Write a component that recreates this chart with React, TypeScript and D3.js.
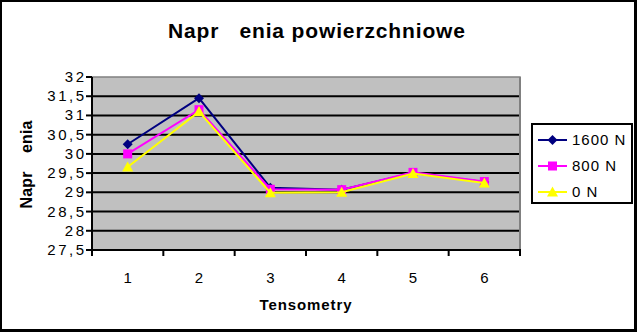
import React from "react";
import * as d3 from "d3";

const categories = ["1", "2", "3", "4", "5", "6"];
const seriesNames = ["1600 N", "800 N", "0 N"];
const values1600 = [30.25, 31.45, 29.12, 29.07, 29.5, 29.27];
const values800 = [30.0, 31.15, 29.08, 29.07, 29.52, 29.28];
const values0 = [29.66, 31.1, 28.99, 29.0, 29.49, 29.24];
const yTicks = [27.5, 28, 28.5, 29, 29.5, 30, 30.5, 31, 31.5, 32];
const titleText = "Napr   enia powierzchniowe";
const yTitle = "Napr    enia";
const xTitle = "Tensometry";

const W = 637, H = 332;
const plot = { l: 92, r: 520, t: 77, b: 250 };
const colors = ["#000080", "#FF00FF", "#FFFF00"];
const markers = ["diamond", "square", "triangle"];

export default function App() {
  const x = d3.scaleBand<string>().domain(categories).range([plot.l, plot.r]);
  const y = d3.scaleLinear().domain([27.5, 32]).range([plot.b, plot.t]);
  const allSeries = [values1600, values800, values0];
  const line = d3.line<number>()
    .x((_, i) => (x(categories[i]) as number) + x.bandwidth() / 2)
    .y((v) => y(v));
  const fmt = (v: number) => String(v).replace(".", ",");

  const marker = (kind: string, cx: number, cy: number, color: string, key: string) => {
    if (kind === "diamond") {
      const s = 5;
      return <path key={key} d={`M${cx},${cy - s}L${cx + s},${cy}L${cx},${cy + s}L${cx - s},${cy}Z`} fill={color} />;
    }
    if (kind === "square") {
      const s = 4.5;
      return <rect key={key} x={cx - s} y={cy - s} width={2 * s} height={2 * s} fill={color} />;
    }
    const s = 5.5;
    return <path key={key} d={`M${cx},${cy - s}L${cx + s},${cy + s - 1}L${cx - s},${cy + s - 1}Z`} fill={color} />;
  };

  const bounds = [...categories.map((c) => x(c) as number), plot.r];
  const font = "Arial, 'Liberation Sans', sans-serif";
  const legendY = [140, 166, 192];

  return (
    <svg width={W} height={H} style={{ position: "absolute", left: 0, top: 0, display: "block" }} fontFamily={font}>
      <rect x={0} y={0} width={W} height={H} fill="#fff" />
      <rect x={1} y={1} width={W - 3} height={H - 3} fill="none" stroke="#000" strokeWidth={2} />
      <line x1={W - 1.5} y1={0} x2={W - 1.5} y2={H} stroke="#000" strokeWidth={3} />
      <line x1={0} y1={H - 1.5} x2={W} y2={H - 1.5} stroke="#000" strokeWidth={3} />

      <text x={168} y={38} fontSize={21} fontWeight="bold" textLength={297} lengthAdjust="spacing" style={{ whiteSpace: "pre" }}>{titleText}</text>

      <rect x={plot.l} y={plot.t} width={plot.r - plot.l} height={plot.b - plot.t} fill="#C0C0C0" stroke="#808080" strokeWidth={1.5} />
      {yTicks.filter((t) => t !== 27.5 && t !== 32).map((t) => (
        <line key={"g" + t} x1={plot.l} x2={plot.r} y1={y(t)} y2={y(t)} stroke="#000" strokeWidth={2} />
      ))}
      <line x1={plot.r} x2={plot.r} y1={plot.t} y2={plot.b} stroke="#808080" strokeWidth={2} />
      <line x1={plot.l} x2={plot.l} y1={plot.t} y2={plot.b + 1} stroke="#000" strokeWidth={2} />
      <line x1={plot.l - 1} x2={plot.r + 1} y1={plot.b} y2={plot.b} stroke="#000" strokeWidth={2} />
      {yTicks.map((t) => (
        <g key={"yt" + t}>
          <line x1={plot.l - 6} x2={plot.l} y1={y(t)} y2={y(t)} stroke="#000" strokeWidth={2} />
          <text x={86.5} y={y(t) + 5} textAnchor="end" fontSize={15} letterSpacing={2.5}>{fmt(t)}</text>
        </g>
      ))}
      {bounds.map((b, i) => (
        <line key={"xt" + i} x1={b} x2={b} y1={plot.b} y2={plot.b + 6} stroke="#000" strokeWidth={2} />
      ))}
      {categories.map((c) => (
        <text key={"xl" + c} x={(x(c) as number) + x.bandwidth() / 2} y={283} textAnchor="middle" fontSize={15}>{c}</text>
      ))}
      <text x={306} y={310} textAnchor="middle" fontSize={15} fontWeight="bold" letterSpacing={0.9}>{xTitle}</text>
      <text transform="translate(32,164.5) rotate(-90)" textAnchor="middle" fontSize={16} fontWeight="bold" textLength={88} lengthAdjust="spacing" style={{ whiteSpace: "pre" }}>{yTitle}</text>

      {allSeries.map((s, si) => (
        <g key={"s" + si}>
          <path d={line(s) || ""} fill="none" stroke={colors[si]} strokeWidth={2} />
          {s.map((v, i) => marker(markers[si], (x(categories[i]) as number) + x.bandwidth() / 2, y(v), colors[si], "m" + si + i))}
        </g>
      ))}

      <rect x={532} y={124} width={100} height={79} fill="#fff" stroke="#000" strokeWidth={2} />
      {seriesNames.map((n, i) => (
        <g key={"lg" + i}>
          <line x1={538} x2={567} y1={legendY[i]} y2={legendY[i]} stroke={colors[i]} strokeWidth={2} />
          {marker(markers[i], 552.5, legendY[i], colors[i], "lm" + i)}
          <text x={572} y={legendY[i] + 5} fontSize={15} letterSpacing={1}>{n}</text>
        </g>
      ))}
    </svg>
  );
}
